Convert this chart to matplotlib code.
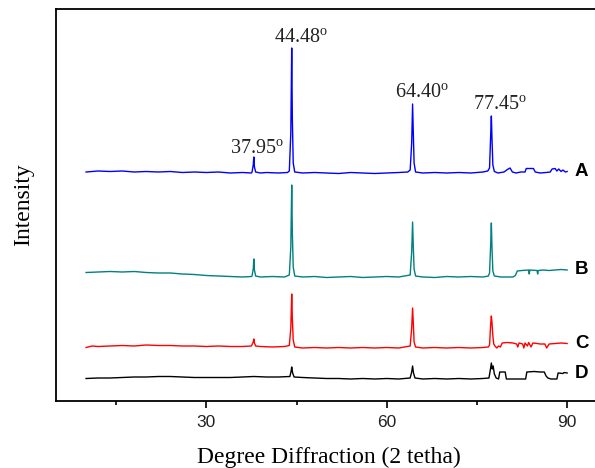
import numpy as np
import matplotlib
matplotlib.use("Agg")
import matplotlib.pyplot as plt
from matplotlib.ticker import MultipleLocator

# -------------------------------------------------------------------
# data (2-theta in degrees, intensity in a.u.)
# -------------------------------------------------------------------
sample_names = ['A', 'B', 'C', 'D']
line_colors = ['#0000ff', '#008080', '#ff0000', '#000000']
offsets = [228, 124, 53, 22]

tt_A = [10, 12, 14, 16, 18, 20, 22, 24, 26, 28, 30, 32, 34, 36, 37.5,
        37.6, 37.8, 37.9, 38.0, 38.2, 39, 40, 42, 43.5,
        43.8, 44.05, 44.2, 44.3, 44.45, 44.7, 46, 48, 50, 52, 54, 56, 58, 60, 62, 63.5,
        63.9, 64.15, 64.3, 64.42, 64.55, 64.8, 66, 68, 70, 72, 74, 76, 76.8,
        77.1, 77.3, 77.4, 77.5, 77.65, 77.9, 78.5, 79.5, 80.2, 80.5, 80.9, 81.5,
        82.3, 83, 83.2, 84.4, 84.7, 85.5, 86.5, 87.2, 87.5, 88.0, 88.3, 88.6,
        89.0, 89.3, 89.7, 90]
int_A = [1, 2, 1.5, 2, 1, 1.5, 1, 1.5, 0.5, 1, 0.5, 1, 0, 0.5, 0,
         1, 8, 16, 6, 1, 0, 0.5, 0, 0.5,
         2, 40, 125, 55, 10, 1, 0, 0.5, 0, -0.5, 0.5, 0, -0.5, 0, 0.5, 1,
         3, 30, 69, 40, 10, 1, 0, 0.5, 0, 0.5, 0, 1, 2,
         5, 40, 57, 35, 8, 1.5, 0, 1, 4, 5, 1, 0,
         1, 1, 4.5, 4.5, 1, 0, 0.5, 1, 4, 4.5, 2, 4,
         1.5, 3, 1, 1.5]

tt_B = [10, 12, 14, 16, 18, 20, 22, 24, 26, 28, 30, 32, 34, 36, 37.5,
        37.6, 37.8, 37.9, 38.0, 38.2, 39, 41, 43,
        43.8, 44.05, 44.2, 44.3, 44.45, 44.7, 46, 48, 50, 52, 54, 56, 58, 60, 62,
        63.9, 64.15, 64.3, 64.42, 64.55, 64.8, 66, 68, 70, 72, 74, 76, 76.9,
        77.1, 77.3, 77.4, 77.5, 77.65, 77.9, 79, 81.0, 81.4, 81.7, 82.5,
        83.6, 83.7, 83.8, 85.0, 85.1, 85.2, 86, 87, 88, 89, 90]
int_B = [4.5, 5, 5.5, 5, 5.5, 4.5, 4, 4, 3, 2.5, 1.5, 1, 0.5, 0, 0.5,
         1, 8, 18, 7, 1, 0, 0.5, 0,
         2, 30, 92, 45, 10, 1, 0, 0.5, -0.5, 0, 0.5, -0.5, 0, 0.5, 0,
         2, 25, 55, 30, 8, 1, 0, -0.5, 0.5, 0, 0.5, 0, 1,
         4, 35, 54, 30, 6, 1, 0, 0, 1.5, 6, 6.5,
         7, 3, 7, 6.5, 3, 6.5, 7, 6.5, 7, 7.5, 7]

tt_C = [10, 11, 12, 14, 16, 18, 20, 22, 24, 26, 28, 30, 32, 34, 36, 37.5,
        37.8, 37.9, 38.0, 38.2, 39, 41, 43,
        43.8, 44.05, 44.2, 44.3, 44.45, 44.7, 46, 48, 50, 52, 54, 56, 58, 60, 62,
        63.9, 64.15, 64.3, 64.42, 64.55, 64.8, 66, 68, 70, 72, 74, 76, 76.9,
        77.1, 77.3, 77.4, 77.5, 77.65, 77.8, 78.0, 78.3, 78.6, 78.9, 79.2, 80, 81,
        81.6, 81.8, 82.0, 82.6, 82.8, 83.0, 83.4, 83.6, 84.0, 84.3, 85, 85.5,
        86.3, 86.6, 87.0, 88, 89, 90]
int_C = [0.5, 2, 1.5, 2, 2.5, 2, 3, 2.5, 2.5, 2, 2, 1.5, 2, 1.5, 1.5, 2,
         6, 9, 5, 2, 1.5, 1, 1.5,
         2.5, 20, 54, 30, 8, 1, 0, 0.5, 0, 0.5, 0, 0.5, 0, 0.5, 0,
         2, 20, 40, 25, 6, 1, 0, 0.5, 0, 0.5, 0, 0.5, 1,
         3, 25, 32, 26, 12, 4, 2, 0, 2, 1, 5, 5.5, 5,
         4, 1, 5, 4, 0, 5, 2, 5.5, 1, 5, 4.5, 4,
         4, 0, 4, 4.5, 5, 4.5]

tt_D = [10, 12, 14, 16, 18, 20, 22, 24, 26, 28, 30, 32, 34, 36, 37.9, 40, 42,
        43.9, 44.1, 44.2, 44.35, 44.6, 46, 48, 50, 52, 54, 56, 58, 60, 62,
        63.9, 64.15, 64.3, 64.45, 64.7, 66, 68, 70, 72, 74, 76,
        77.0, 77.2, 77.4, 77.55, 77.7, 77.9, 78.2, 78.6, 78.8, 79.7, 79.9,
        83.1, 83.3, 84.5, 85.5, 86.2, 86.5, 86.8, 87.3, 88.3, 88.5, 89.3, 89.5, 90]
int_D = [0.5, 1, 1, 1.5, 2, 2, 2.5, 2.5, 2, 1.5, 1.5, 1.5, 1.5, 2, 2.5, 2, 2,
         2.5, 8, 12, 6, 2, 1.5, 1, 0.5, 0.5, 0, 0.5, 0, 0.5, 0,
         1, 7, 13, 6, 1, 0, 0.5, 0, 0.5, 0, 0.5,
         1, 8, 16, 10, 13, 5, 1, 0, 7, 7, 0,
         0, 7, 7.5, 7, 7, 3, 1, 0, 0, 6, 5.5, 6.5, 6]

peak_labels = ['37.95', '44.48', '64.40', '77.45']
peak_label_x = [38.5, 45.7, 65.9, 78.8]
peak_label_y = [247, 358, 303.5, 291]

# -------------------------------------------------------------------
# plot
# -------------------------------------------------------------------
plt.rcParams['mathtext.fontset'] = 'custom'
plt.rcParams['mathtext.rm'] = 'Liberation Serif'

fig = plt.figure(figsize=(5.95, 4.68), dpi=100)
# right spine sits just outside the picture, as in the original crop
ax = fig.add_axes([56 / 595, 1 - 401 / 468, 546 / 595, 392 / 468])

traces = [(tt_A, int_A), (tt_B, int_B), (tt_C, int_C), (tt_D, int_D)]
for (tt, inten), name, col, off in zip(traces, sample_names, line_colors, offsets):
    y = np.array(inten) + off
    ax.plot(tt, y, color=col, lw=1.0)
    ax.text(91.3, y[-1], name, ha='left', va='center', fontsize=13.5,
            fontweight='bold', family='Liberation Sans')

for lab, lx, ly in zip(peak_labels, peak_label_x, peak_label_y):
    ax.text(lx, ly, lab + r'$^{\mathrm{o}}$', ha='center', va='baseline',
            fontsize=14.5, family='Liberation Serif', color='#222222')

ax.set_xlim(5, 95.8)
ax.set_ylim(0, 392)
ax.xaxis.set_major_locator(MultipleLocator(30))
ax.xaxis.set_minor_locator(MultipleLocator(15))
ax.tick_params(axis='x', which='major', direction='out', length=5, width=1.2,
               labelsize=12.5, pad=5)
ax.tick_params(axis='x', which='minor', direction='out', length=3, width=1.2)
ax.set_yticks([])
for lbl in ax.get_xticklabels():
    lbl.set_family('Liberation Sans')
    lbl.set_color('#222222')
for sp in ax.spines.values():
    sp.set_linewidth(1.3)

ax.set_xlabel('Degree Diffraction (2 tetha)', family='Liberation Serif',
              fontsize=17, labelpad=12)
ax.set_ylabel('Intensity', family='Liberation Serif', fontsize=17, labelpad=16)

fig.savefig('out.png', dpi=100)
